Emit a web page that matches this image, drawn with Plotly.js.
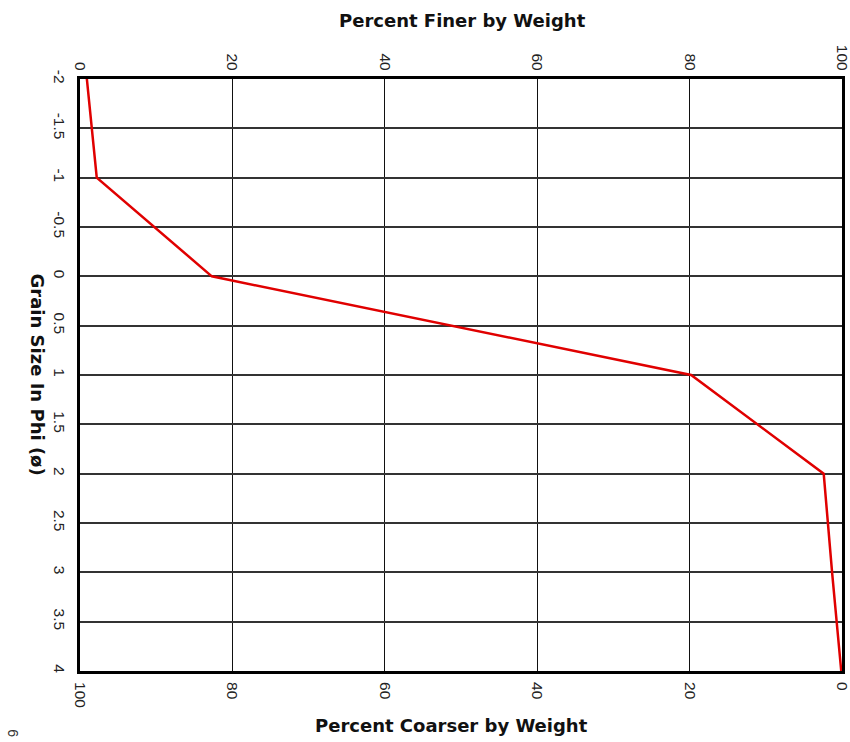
<!DOCTYPE html>
<html>
<head>
<meta charset="utf-8">
<script src="https://cdn.plot.ly/plotly-3.0.1.min.js"></script>
<style>html,body{margin:0;padding:0;background:#fff;}#chart{width:850px;height:742px;}</style>
</head>
<body>
<div id="chart"></div>
<script>
// Grain size (phi) and cumulative percent finer by weight
const phi = [-2, -1, 0, 1, 2, 3, 4];
const percentFiner = [0.9, 2.2, 17.3, 80.2, 97.6, 98.7, 99.9];
const percentCoarser = percentFiner.map(v => 100 - v);

const phiTickVals = [-2, -1.5, -1, -0.5, 0, 0.5, 1, 1.5, 2, 2.5, 3, 3.5, 4];
const phiTickText = ["-2", "-1.5", "-1", "-0.5", "0", "0.5", "1", "1.5", "2", "2.5", "3", "3.5", "4"];
const finerTickVals = [0, 20, 40, 60, 80, 100];
const finerTickText = ["0", "20", "40", "60", "80", "100"];
const coarserTickVals = [100, 80, 60, 40, 20, 0];
const coarserTickText = ["100", "80", "60", "40", "20", "0"];

const TICKFAMILY = "Liberation Sans, Arial, sans-serif";
const TITLEFAMILY = "DejaVu Sans, Verdana, sans-serif";
const tickFont = {family: TICKFAMILY, size: 15.5, color: "#222"};
const titleFont = {family: TITLEFAMILY, size: 18, color: "#111", weight: "bold"};

const traces = [
  {
    x: percentCoarser, y: phi, xaxis: "x", yaxis: "y",
    mode: "lines", line: {color: "#e00000", width: 2.5},
    hoverinfo: "skip", showlegend: false
  },
  {
    x: percentFiner, y: phi, xaxis: "x2", yaxis: "y",
    mode: "lines", line: {color: "rgba(0,0,0,0)", width: 0},
    hoverinfo: "skip", showlegend: false
  }
];

const layout = {
  width: 850, height: 742,
  margin: {l: 80, r: 8, t: 79, b: 71, pad: 0},
  paper_bgcolor: "#fff", plot_bgcolor: "#fff",
  showlegend: false,
  xaxis: {
    range: [100, 0], tickmode: "array", tickvals: coarserTickVals, ticktext: coarserTickText,
    tickangle: 90, tickfont: tickFont, ticks: "", ticklabelstandoff: 5, ticklabeloverflow: "allow",
    showgrid: true, gridcolor: "#111", gridwidth: 1.3,
    showline: true, linecolor: "#000", linewidth: 3, mirror: true, zeroline: false
  },
  xaxis2: {
    range: [0, 100], overlaying: "x", side: "top", anchor: "y",
    tickmode: "array", tickvals: finerTickVals, ticktext: finerTickText,
    tickangle: 90, tickfont: tickFont, ticks: "", ticklabelstandoff: 5, ticklabeloverflow: "allow",
    showgrid: false, showline: false, zeroline: false
  },
  yaxis: {
    range: [4, -2], tickmode: "array", tickvals: phiTickVals, ticktext: phiTickText,
    tickangle: 90, tickfont: tickFont, ticks: "", ticklabelstandoff: 4, ticklabeloverflow: "allow",
    showgrid: true, gridcolor: "#333", gridwidth: 1.8,
    showline: true, linecolor: "#000", linewidth: 3, mirror: true, zeroline: false
  },
  annotations: [
    {text: "Percent Finer by Weight", xref: "paper", yref: "paper", x: 0.502, y: 1.0988,
     xanchor: "center", yanchor: "middle", showarrow: false, font: titleFont},
    {text: "Percent Coarser by Weight", xref: "paper", yref: "paper", x: 0.487, y: -0.0917,
     xanchor: "center", yanchor: "middle", showarrow: false, font: titleFont},
    {text: "Grain Size In Phi (ø)", xref: "paper", yref: "paper", x: -0.0545, y: 0.5,
     xanchor: "center", yanchor: "middle", textangle: 90, showarrow: false, font: titleFont},
    {text: "6", xref: "paper", yref: "paper", x: -0.088, y: -0.105,
     xanchor: "center", yanchor: "middle", textangle: 90, showarrow: false,
     font: {family: TICKFAMILY, size: 14, color: "#333"}}
  ]
};

Plotly.newPlot("chart", traces, layout, {displayModeBar: false, staticPlot: true});
</script>
</body>
</html>
